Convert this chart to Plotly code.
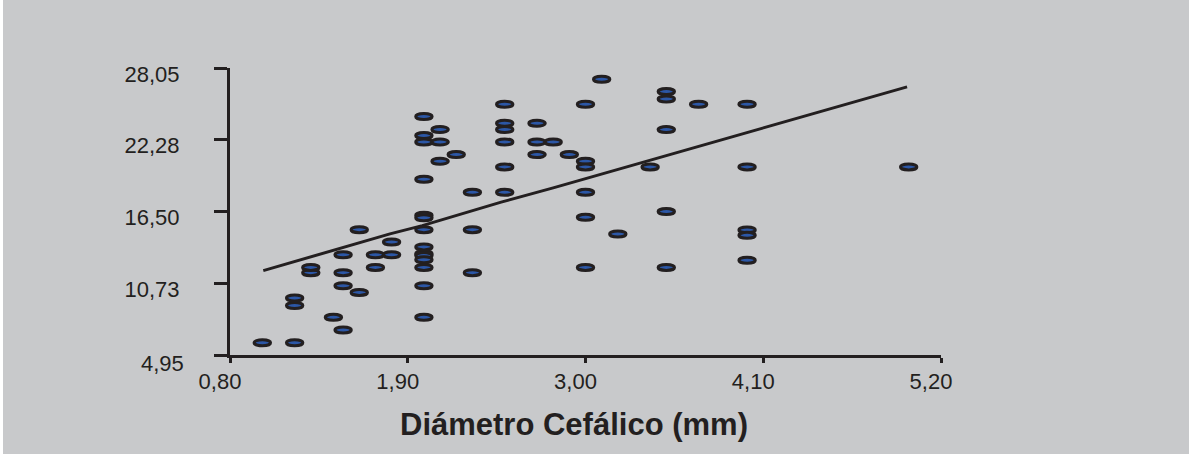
import plotly.graph_objects as go

# ---- data ----
diam_x = [1.0, 1.2, 1.2, 1.2, 1.3, 1.3, 1.44, 1.5, 1.5, 1.5, 1.5, 1.6, 1.6, 1.7, 1.7, 1.8, 1.8,
          2.0, 2.0, 2.0, 2.0, 2.0, 2.0, 2.0, 2.0, 2.0, 2.0, 2.0, 2.0, 2.0, 2.0,
          2.1, 2.1, 2.1, 2.2, 2.3, 2.3, 2.3,
          2.5, 2.5, 2.5, 2.5, 2.5, 2.5,
          2.7, 2.7, 2.7, 2.8, 2.9,
          3.0, 3.0, 3.0, 3.0, 3.0, 3.0,
          3.1, 3.2, 3.4,
          3.5, 3.5, 3.5, 3.5, 3.5,
          3.7,
          4.0, 4.0, 4.0, 4.0, 4.0,
          5.0]
value_y = [5.94, 5.94, 8.94, 9.54, 11.58, 12.0, 7.98, 6.96, 10.53, 11.58, 13.02, 9.99, 15.04, 12.0, 13.02, 13.02, 14.05,
           24.14, 22.61, 22.10, 19.09, 16.2, 16.0, 15.04, 13.65, 13.1, 12.95, 12.62, 12.0, 10.53, 7.98,
           23.1, 22.10, 20.54, 21.08, 18.04, 15.04, 11.58,
           25.13, 23.6, 23.1, 22.10, 20.09, 18.04,
           23.6, 22.10, 21.08, 22.10, 21.08,
           25.13, 20.54, 20.09, 18.04, 16.03, 12.0,
           27.14, 14.69, 20.09,
           26.15, 25.56, 23.09, 16.49, 12.0,
           25.13,
           25.13, 20.09, 15.02, 14.58, 12.57,
           20.09]

trend_x = [1.006, 1.481, 1.79, 1.99, 2.09, 2.297, 2.478, 2.80, 2.99, 3.09, 3.39, 3.50, 4.99]
trend_y = [11.74, 13.55, 14.70, 15.36, 15.74, 16.51, 17.25, 18.40, 19.10, 19.45, 20.56, 21.0, 26.53]

x_ticks = [0.80, 1.90, 3.00, 4.10, 5.20]
x_ticktext = ["0,80", "1,90", "3,00", "4,10", "5,20"]
y_ticks = [4.95, 10.73, 16.50, 22.28, 28.05]
y_ticktext = ["", "10,73", "16,50", "22,28", "28,05"]
x_title = "Diámetro Cefálico (mm)"

# ---- style ----
W, H = 1189, 454
ML, MR, MT, MB = 230, 248, 68, 99
PW, PH = W - ML - MR, H - MT - MB
BG = "#C8C9CB"
INK = "#231F20"
BLUE = "#2C57A6"
FONT = "Liberation Sans, Arial, sans-serif"

fig = go.Figure()

fig.add_trace(go.Scatter(x=trend_x, y=trend_y, mode="lines",
                         line=dict(color=INK, width=3), hoverinfo="skip", showlegend=False))
fig.add_trace(go.Scatter(x=diam_x, y=value_y, mode="markers",
                         marker=dict(size=12, opacity=0), showlegend=False))

shapes = []
for xv, yv in zip(diam_x, value_y):
    shapes.append(dict(type="circle", xref="x", yref="y",
                       xsizemode="pixel", ysizemode="pixel",
                       xanchor=xv, yanchor=yv,
                       x0=-8.2, x1=8.2, y0=-3.0, y1=3.0,
                       fillcolor=BLUE, line=dict(color=INK, width=3),
                       layer="above"))

# white strip at left edge of the page
shapes.append(dict(type="rect", xref="paper", yref="paper",
                   x0=(0 - ML) / PW, x1=(3 - ML) / PW,
                   y0=-MB / PH - 0.1, y1=1 + MT / PH + 0.1,
                   fillcolor="white", line=dict(width=0), layer="below"))

annotations = [
    dict(text="4,95", xref="paper", yref="y", x=0, y=4.95, xanchor="right", yanchor="middle",
         xshift=-44, yshift=-8, showarrow=False, font=dict(family=FONT, size=22, color=INK)),
    dict(text="<b>" + x_title + "</b>", xref="paper", yref="paper",
         x=(574 - ML) / PW, y=(MT + PH - 424) / PH, xanchor="center", yanchor="middle",
         showarrow=False, font=dict(family=FONT, size=31, color=INK)),
]

fig.update_layout(
    width=W, height=H,
    margin=dict(l=ML, r=MR, t=MT, b=MB, pad=0),
    paper_bgcolor=BG, plot_bgcolor=BG,
    shapes=shapes, annotations=annotations,
    showlegend=False,
    xaxis=dict(range=[0.8, 5.2], tickvals=x_ticks, ticktext=x_ticktext,
               showgrid=False, zeroline=False, showline=True, linecolor=INK, linewidth=3,
               ticks="outside", ticklen=5, tickwidth=3, tickcolor=INK,
               ticklabelshift=-10, ticklabelstandoff=0,
               tickfont=dict(family=FONT, size=22, color=INK)),
    yaxis=dict(range=[4.95, 28.05], tickvals=y_ticks, ticktext=y_ticktext,
               showgrid=False, zeroline=False, showline=True, linecolor=INK, linewidth=3,
               ticks="outside", ticklen=13, tickwidth=3, tickcolor=INK,
               ticklabelshift=6, ticklabelstandoff=30,
               tickfont=dict(family=FONT, size=22, color=INK)),
)

fig.write_html("out.html")
